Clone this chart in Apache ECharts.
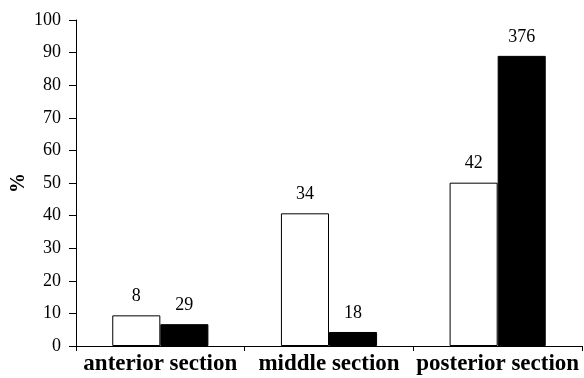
<!DOCTYPE html>
<html><head><meta charset="utf-8">
<script src="https://cdn.jsdelivr.net/npm/echarts@6/dist/echarts.min.js"></script>
<style>html,body{margin:0;padding:0;background:#fff}#c{width:584px;height:378px}</style>
</head><body><div id="c"></div>
<script>
const categories = ['anterior section', 'middle section', 'posterior section'];
const whitePct = [9.4, 40.7, 50.1];
const blackPct = [6.7, 4.3, 89.0];
const whiteCounts = [8, 34, 42];
const blackCounts = [29, 18, 376];
const yTicks = {min: 0, max: 100, interval: 10};

const chart = echarts.init(document.getElementById('c'));
const font = 'Liberation Serif';
chart.setOption({
  animation: false,
  grid: {left: 76, right: 2, top: 20, bottom: 32, containLabel: false, outerBoundsMode: 'none'},
  xAxis: {
    type: 'category', data: categories,
    axisLine: {lineStyle: {color: '#000', width: 1}},
    axisTick: {show: true, length: 5, lineStyle: {color: '#000'}},
    axisLabel: {color: '#000', fontFamily: font, fontWeight: 'bold', fontSize: 23, margin: 7, interval: 0, hideOverlap: false}
  },
  yAxis: {
    type: 'value', min: yTicks.min, max: yTicks.max, interval: yTicks.interval,
    name: '%', nameLocation: 'middle', nameGap: 47, nameRotate: 90, nameMoveOverlap: false,
    nameTextStyle: {color: '#000', fontFamily: font, fontWeight: 'bold', fontSize: 20},
    splitLine: {show: false},
    axisLine: {show: true, lineStyle: {color: '#000', width: 1}},
    axisTick: {show: true, length: 7, lineStyle: {color: '#000'}},
    axisLabel: {color: '#000', fontFamily: font, fontSize: 18, margin: 15}
  },
  series: [
    {
      type: 'bar', data: whitePct, barGap: '0%', barCategoryGap: '43%',
      itemStyle: {color: '#fff', borderColor: '#000', borderWidth: 1},
      label: {show: true, position: 'top', distance: 10, color: '#000', fontFamily: font, fontSize: 18,
        formatter: p => whiteCounts[p.dataIndex]}
    },
    {
      type: 'bar', data: blackPct, barGap: '0%', barCategoryGap: '43%',
      itemStyle: {color: '#000', borderColor: '#000', borderWidth: 1},
      label: {show: true, position: 'top', distance: 10, color: '#000', fontFamily: font, fontSize: 18,
        formatter: p => blackCounts[p.dataIndex]}
    }
  ]
});
</script></body></html>
